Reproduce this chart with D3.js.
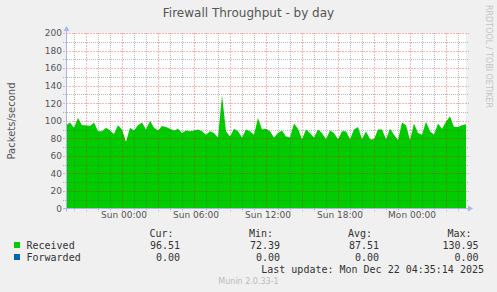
<!DOCTYPE html>
<html>
<head>
<meta charset="utf-8">
<script src="https://cdn.jsdelivr.net/npm/d3@7"></script>
<style>
  html, body { margin: 0; padding: 0; background: #f0f0f0; }
  svg { display: block; }
</style>
</head>
<body>
<script>
// Packets/second, one sample every 20 minutes from Sat 19:20 to Mon 04:40
const received = [
  95, 98, 92, 103, 95, 95, 94, 98, 88, 88,
  92, 89, 85, 95, 90, 76, 92, 89, 95, 98,
  90, 100, 92, 89, 94, 93, 91, 89, 91, 86,
  89, 88, 89, 90, 88, 84, 88, 86, 81, 129,
  88, 82, 91, 88, 81, 90, 88, 84, 103, 90,
  91, 88, 81, 86, 89, 82, 81, 97, 91, 79,
  90, 86, 81, 90, 86, 79, 89, 86, 79, 88,
  88, 79, 90, 93, 79, 88, 79, 79, 90, 90,
  79, 91, 84, 78, 98, 95, 78, 97, 86, 84,
  99, 88, 84, 97, 91, 99, 105, 93, 93, 95,
  96
];
const forwarded = [
  0, 0, 0, 0, 0, 0, 0, 0, 0, 0, 0, 0, 0, 0, 0, 0, 0, 0, 0, 0,
  0, 0, 0, 0, 0, 0, 0, 0, 0, 0, 0, 0, 0, 0, 0, 0, 0, 0, 0, 0,
  0, 0, 0, 0, 0, 0, 0, 0, 0, 0, 0, 0, 0, 0, 0, 0, 0, 0, 0, 0,
  0, 0, 0, 0, 0, 0, 0, 0, 0, 0, 0, 0, 0, 0, 0, 0, 0, 0, 0, 0,
  0, 0, 0, 0, 0, 0, 0, 0, 0, 0, 0, 0, 0, 0, 0, 0, 0, 0, 0, 0,
  0
];
const yTicks = [0, 20, 40, 60, 80, 100, 120, 140, 160, 180, 200];
const statHeaders = ["Cur:", "Min:", "Avg:", "Max:"];
const seriesNames = ["Received", "Forwarded"];
const seriesColors = ["#00cc00", "#0066b3"];
const stats = [
  ["96.51", "72.39", "87.51", "130.95"],
  ["0.00", "0.00", "0.00", "0.00"]
];
const startTime = new Date(2025, 11, 20, 19, 20);
const endTime = new Date(2025, 11, 22, 4, 40);
const stepMinutes = 20;

const width = 497, height = 292;
const plotLeft = 66, plotRight = 466, plotTop = 33, plotBottom = 208.5;

const svg = d3.select("body").append("svg")
    .attr("width", width)
    .attr("height", height);

svg.append("rect")
    .attr("width", width)
    .attr("height", height)
    .attr("fill", "#f0f0f0");

const x = d3.scaleTime().domain([startTime, endTime]).range([plotLeft, plotRight]);
const y = d3.scaleLinear().domain([0, 200]).range([plotBottom, plotTop]);

const timeOf = i => new Date(startTime.getTime() + i * stepMinutes * 60000);

// plot background
svg.append("rect")
    .attr("x", plotLeft)
    .attr("y", plotTop)
    .attr("width", plotRight - plotLeft)
    .attr("height", plotBottom - plotTop)
    .attr("fill", "#ffffff");

// Received area
const area = d3.area()
    .x((d, i) => x(timeOf(i)))
    .y0(y(0))
    .y1(d => y(d));

svg.append("path")
    .datum(received)
    .attr("d", area)
    .attr("fill", seriesColors[0]);

// Forwarded line
const line = d3.line()
    .x((d, i) => x(timeOf(i)))
    .y(d => y(d));

svg.append("path")
    .datum(forwarded)
    .attr("d", line)
    .attr("fill", "none")
    .attr("stroke", seriesColors[1])
    .attr("stroke-width", 1);

// grid, drawn over the data like rrdtool does
const grid = svg.append("g");
const gridStyle = major => major
    ? { color: "#ff0000", opacity: 0.3, dash: "2,1" }
    : { color: "#555555", opacity: 0.4, dash: "1,1" };

d3.range(10, 201, 10).forEach(v => {
    const yy = Math.round(y(v)) + 0.5;
    const s = gridStyle(v % 20 === 0);
    grid.append("line")
        .attr("x1", plotLeft - 3).attr("x2", plotRight + 3)
        .attr("y1", yy).attr("y2", yy)
        .attr("stroke", s.color)
        .attr("stroke-opacity", s.opacity)
        .attr("stroke-dasharray", s.dash);
});

x.ticks(d3.timeHour.every(1)).forEach(t => {
    const xx = Math.round(x(t)) + 0.5;
    if (xx <= plotLeft + 1) return;
    const s = gridStyle(t.getHours() % 3 === 0);
    grid.append("line")
        .attr("x1", xx).attr("x2", xx)
        .attr("y1", plotTop).attr("y2", plotBottom + 3)
        .attr("stroke", s.color)
        .attr("stroke-opacity", s.opacity)
        .attr("stroke-dasharray", s.dash);
});

// axes lines with arrows
const axisColor = "#aab6ee";
svg.append("line")
    .attr("x1", plotLeft + 0.5).attr("x2", plotLeft + 0.5)
    .attr("y1", plotBottom + 3).attr("y2", plotTop - 4)
    .attr("stroke", axisColor);
svg.append("path")
    .attr("d", `M${plotLeft - 2.5},${plotTop - 2} L${plotLeft + 3.5},${plotTop - 2} L${plotLeft + 0.5},${plotTop - 7} Z`)
    .attr("fill", axisColor);
svg.append("line")
    .attr("x1", plotLeft - 3).attr("x2", plotRight + 4)
    .attr("y1", plotBottom).attr("y2", plotBottom)
    .attr("stroke", axisColor);
svg.append("path")
    .attr("d", `M${plotRight + 2},${plotBottom - 3} L${plotRight + 2},${plotBottom + 3} L${plotRight + 7},${plotBottom} Z`)
    .attr("fill", axisColor);

// y tick labels
const yAxis = d3.axisLeft(y).tickValues(yTicks).tickSize(0).tickPadding(0);
const yg = svg.append("g")
    .attr("transform", `translate(${plotLeft - 4},0)`)
    .call(yAxis);
yg.select(".domain").remove();
yg.selectAll("text")
    .attr("font-family", "DejaVu Sans")
    .attr("font-size", 9)
    .attr("fill", "#555");

// x tick labels
const xAxis = d3.axisBottom(x)
    .ticks(d3.timeHour.every(6))
    .tickFormat(d3.timeFormat("%a %H:%M"))
    .tickSize(0).tickPadding(0);
const xg = svg.append("g")
    .attr("transform", `translate(1.5,${plotBottom + 3.5})`)
    .call(xAxis);
xg.select(".domain").remove();
xg.selectAll("text")
    .attr("font-family", "DejaVu Sans")
    .attr("font-size", 9)
    .attr("fill", "#555");

// title
svg.append("text")
    .attr("x", 248.5).attr("y", 17)
    .attr("text-anchor", "middle")
    .attr("font-family", "DejaVu Sans")
    .attr("font-size", 12)
    .attr("fill", "#555")
    .text("Firewall Throughput - by day");

// vertical label
svg.append("text")
    .attr("transform", "translate(14.5,121) rotate(-90)")
    .attr("text-anchor", "middle")
    .attr("font-family", "DejaVu Sans")
    .attr("font-size", 10)
    .attr("fill", "#555")
    .text("Packets/second");

// watermark
svg.append("text")
    .attr("transform", "translate(485.5,5) rotate(90)")
    .attr("font-family", "DejaVu Sans")
    .attr("font-size", 8)
    .attr("fill", "#c4c4c4")
    .text("RRDTOOL / TOBI OETIKER");

// legend
const mono = "DejaVu Sans Mono";
const colEnds = [180, 280, 379, 478.5];
const headerStarts = [149.5, 249, 348, 447.5];
const legend = svg.append("g")
    .attr("font-family", mono)
    .attr("font-size", 10)
    .attr("fill", "#333");

statHeaders.forEach((h, i) => {
    legend.append("text")
        .attr("x", headerStarts[i]).attr("y", 237)
        .text(h);
});

seriesNames.forEach((name, r) => {
    const yy = 249 + r * 12;
    legend.append("rect")
        .attr("x", 14).attr("y", yy - 7)
        .attr("width", 6).attr("height", 6)
        .attr("fill", seriesColors[r]);
    legend.append("text")
        .attr("x", 26.5).attr("y", yy)
        .text(name);
    stats[r].forEach((s, c) => {
        legend.append("text")
            .attr("x", colEnds[c]).attr("y", yy)
            .attr("text-anchor", "end")
            .text(s);
    });
});

legend.append("text")
    .attr("x", 484).attr("y", 273)
    .attr("text-anchor", "end")
    .text("Last update: Mon Dec 22 04:35:14 2025");

svg.append("text")
    .attr("x", 248.5).attr("y", 284)
    .attr("text-anchor", "middle")
    .attr("font-family", "DejaVu Sans")
    .attr("font-size", 8)
    .attr("fill", "#bbb")
    .text("Munin 2.0.33-1");
</script>
</body>
</html>
